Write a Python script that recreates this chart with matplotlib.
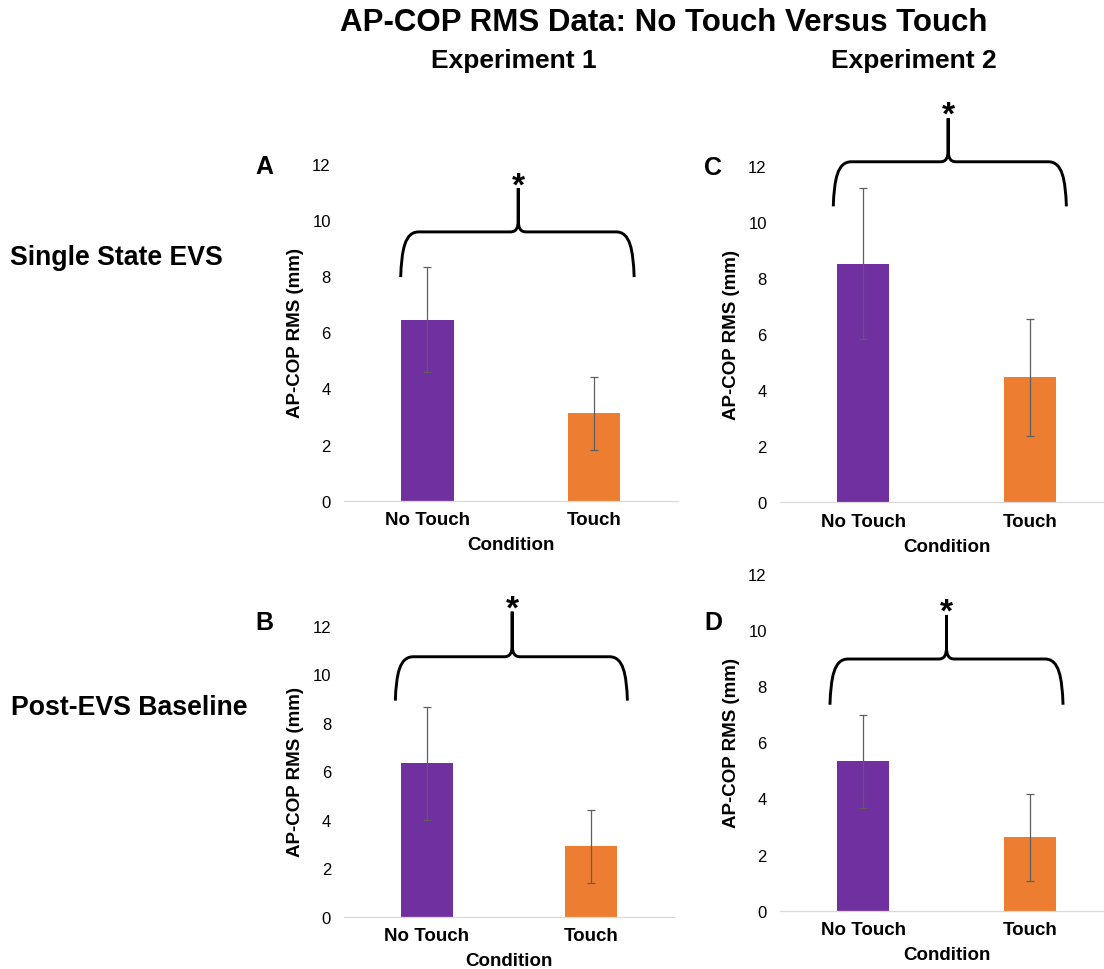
import numpy as np
import matplotlib
matplotlib.use('Agg')
import matplotlib.pyplot as plt
from matplotlib.path import Path
from matplotlib.patches import PathPatch
from matplotlib.transforms import IdentityTransform

plt.rcParams['font.family'] = ['Liberation Sans', 'DejaVu Sans']

# data (AP-COP RMS, mm; mean and error bar half-length)
conditions = ['No Touch', 'Touch']
exp1_single_mean = [6.45, 3.11]
exp1_single_err = [1.88, 1.29]
exp1_post_mean = [6.33, 2.91]
exp1_post_err = [2.33, 1.50]
exp2_single_mean = [8.50, 4.45]
exp2_single_err = [2.69, 2.08]
exp2_post_mean = [5.32, 2.62]
exp2_post_err = [1.66, 1.55]
bar_colors = ['#7030A0', '#ED7D31']
yticks = [0, 2, 4, 6, 8, 10, 12]

W, H = 1104, 970
fig = plt.figure(figsize=(W / 100, H / 100), dpi=100)


def px_axes(left, top, right, bottom):
    return fig.add_axes([left / W, 1 - bottom / H, (right - left) / W, (bottom - top) / H])


def px_text(x, y, s, **kw):
    fig.text(x / W, 1 - y / H, s, **kw)


def draw_brace(ax, x0, x1, xc, y_foot, y_bar, y_tip, y_star):
    t = ax.transData
    X0, YB = t.transform((x0, y_foot))
    X1, _ = t.transform((x1, y_foot))
    XC, YH = t.transform((xc, y_bar))
    _, YT = t.transform((xc, y_tip))
    h = YH - YB
    r, c, k = 18, 8, 12
    verts = [(X0, YB),
             (X0 + 1, YB + 0.6 * h), (X0 + 4, YH), (X0 + r, YH),
             (XC - c, YH),
             (XC - 2, YH), (XC, YH + 4), (XC, YH + k),
             (XC, YT),
             (XC, YH + k),
             (XC, YH + 4), (XC + 2, YH), (XC + c, YH),
             (X1 - r, YH),
             (X1 - 4, YH), (X1 - 1, YB + 0.6 * h), (X1, YB)]
    C4, L = Path.CURVE4, Path.LINETO
    codes = [Path.MOVETO, C4, C4, C4, L, C4, C4, C4, L, L, C4, C4, C4, L, C4, C4, C4]
    fig.add_artist(PathPatch(Path(verts, codes), fill=False, lw=2.1,
                             edgecolor='black', capstyle='butt',
                             transform=IdentityTransform()))
    ax.annotate('*', (xc, y_star), xytext=(0, -13), textcoords='offset points',
                ha='center', va='baseline', fontsize=24, fontweight='bold',
                annotation_clip=False)


panels = [
    ('A', exp1_single_mean, exp1_single_err, (344, 165, 677.5, 501.7), (264, 167),
     (-0.16, 1.24, 0.545, 7.97, 9.58, 11.14, 11.57)),
    ('B', exp1_post_mean, exp1_post_err, (344.3, 626.7, 673.5, 917.7), (264, 623),
     (-0.19, 1.22, 0.52, 8.91, 10.72, 12.58, 13.07)),
    ('C', exp2_single_mean, exp2_single_err, (780, 166.7, 1113, 503.3), (713, 168),
     (-0.18, 1.22, 0.51, 10.55, 12.14, 13.69, 14.14)),
    ('D', exp2_post_mean, exp2_post_err, (780, 575, 1113, 911.7), (713, 623),
     (-0.20, 1.20, 0.50, 7.34, 8.97, 10.54, 11.0)),
]

for letter, means, errs, rect, lpos, brace in panels:
    ax = px_axes(*rect)
    x = np.arange(len(conditions))
    ax.bar(x, means, width=0.315, color=bar_colors, zorder=2)
    ax.errorbar(x, means, yerr=errs, fmt='none', ecolor='#5f5f5f',
                elinewidth=0.9, capsize=3, capthick=0.9, zorder=3)
    ax.set_xlim(-0.5, 1.5)
    ax.set_ylim(0, 12)
    ax.set_yticks(yticks)
    ax.set_xticks(x)
    ax.set_xticklabels(conditions, fontsize=13.5, fontweight='bold')
    ax.tick_params(axis='y', length=0, pad=9.5, labelsize=12)
    ax.tick_params(axis='x', length=0, pad=7.5)
    for s in ['top', 'right', 'left']:
        ax.spines[s].set_visible(False)
    ax.spines['bottom'].set_color('#d9d9d9')
    ax.spines['bottom'].set_linewidth(0.9)
    ax.set_xlabel('Condition', fontsize=13.5, fontweight='bold', labelpad=6)
    left, top, right, bottom = rect
    px_text(left - 49, (top + bottom) / 2, 'AP-COP RMS (mm)', rotation=90,
            ha='center', va='center', fontsize=13.5, fontweight='bold')
    px_text(lpos[0], lpos[1], letter, ha='center', va='center',
            fontsize=18, fontweight='bold')
    draw_brace(ax, *brace)

px_text(664, 23, 'AP-COP RMS Data: No Touch Versus Touch', ha='center', va='center',
        fontsize=22.5, fontweight='bold')
px_text(514, 61, 'Experiment 1', ha='center', va='center', fontsize=19, fontweight='bold')
px_text(914, 61, 'Experiment 2', ha='center', va='center', fontsize=19, fontweight='bold')
px_text(10, 258, 'Single State EVS', ha='left', va='center', fontsize=19.2, fontweight='bold')
px_text(11, 708, 'Post-EVS Baseline', ha='left', va='center', fontsize=19.2, fontweight='bold')

fig.savefig('out.png', dpi=100)
